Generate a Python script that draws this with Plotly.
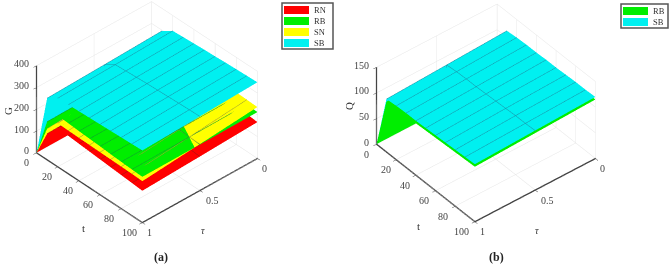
import math
import plotly.graph_objects as go

t = [0, 10, 20, 30, 40, 50, 60, 70, 80, 90, 100]
tau = [0, 0.5, 1]

# panel (a): G values, one row per tau, one column per t
G_RN = [[0, 130, 198, 195, 192, 189, 186, 183, 177, 172, 167],
        [0, 125, 188, 184, 180, 176, 172, 168, 164, 160, 156],
        [0, 120, 178, 174, 170, 166, 162, 158, 154, 150, 146]]
G_RB = [[0, 178, 238, 235, 231, 228, 225, 222, 219, 216, 213],
        [0, 176, 236, 233, 229, 226, 223, 220, 217, 214, 211],
        [0, 175, 235, 232, 228, 225, 222, 218, 215, 212, 210]]
G_SN = [[0, 165, 246, 245, 244, 243, 242, 241, 240, 238, 236],
        [0, 153, 222, 220, 219, 218, 217, 216, 215, 214, 213],
        [0, 143, 200, 198, 197, 196, 195, 194, 193, 192, 190]]
G_SB = [[0, 298, 330, 333, 336, 339, 341, 344, 346, 348, 350],
        [0, 290, 322, 325, 328, 331, 333, 335, 337, 339, 340],
        [0, 283, 315, 317, 319, 321, 323, 325, 327, 329, 331]]

# panel (b): Q values
Q_SB = [[0, 113, 115, 116, 116, 117, 117, 118, 119, 119, 120],
        [0, 108, 110, 111, 111, 112, 113, 114, 115, 115, 116],
        [0, 103, 105, 106, 106, 107, 108, 109, 110, 111, 112]]
Q_RB = [[0, 108, 110, 111, 111, 112, 112, 113, 114, 114, 115],
        [0, 103, 105, 106, 106, 107, 108, 109, 110, 110, 111],
        [0, 98, 100, 101, 101, 102, 103, 104, 105, 106, 107]]

T_TICKS = [0, 20, 40, 60, 80, 100]
TAU_TICKS = [0, 0.5, 1]
G_TICKS = [0, 100, 200, 300, 400]
Q_TICKS = [0, 50, 100, 150]

RED, GREEN, YELLOW, CYAN = "#ff0000", "#00ee00", "#ffff00", "#00f0f0"
LINES = {RED: "#a01010", GREEN: "#109a30", YELLOW: "#a0a030", CYAN: "#1a93a8"}
FONT = "Liberation Serif"
TICK = "#444444"
W, H = 669, 266


def surf(z, color, scene, lines=True):
    return go.Surface(
        x=t, y=tau, z=z, scene=scene, showscale=False,
        colorscale=[[0, color], [1, color]], hoverinfo="skip",
        lighting=dict(ambient=1, diffuse=0, specular=0, fresnel=0, roughness=1),
        contours=dict(
            x=dict(show=lines, start=10, end=100, size=10, color=LINES[color], width=1),
            y=dict(show=lines, start=0.5, end=1, size=1, color=LINES[color], width=1),
        ),
    )


def eye(phi_deg, el_deg, r, cz):
    p, e = math.radians(phi_deg), math.radians(el_deg)
    return dict(x=r * math.sin(p) * math.cos(e), y=-r * math.cos(p) * math.cos(e), z=r * math.sin(e) + cz)


def axis(rng, ticks):
    return dict(
        range=rng, tickvals=ticks, showticklabels=False, title=dict(text=""),
        showbackground=False, showgrid=True, gridcolor="#e4e4e4", gridwidth=1,
        showline=True, linecolor="#444444", linewidth=3, ticks="outside", ticklen=4,
        tickcolor="#444444", zeroline=False, showspikes=False, mirror=False,
    )


def tick_note(x, y, z, label, xs, ys, anchor="center"):
    return dict(x=x, y=y, z=z, text=label, showarrow=False, xanchor=anchor, yanchor="middle",
                xshift=xs, yshift=ys, font=dict(family=FONT, size=10, color=TICK))


def scene(zr, zt, phi, el, asp, domx, domy, r, cz):
    notes3d = [tick_note(0, 1, v, str(v), -6, 2, "right") for v in zt]
    notes3d += [tick_note(v, 1, 0, str(v), -10 - v * 0.035, -10) for v in T_TICKS]
    notes3d += [tick_note(100, v, 0, str(v), 12 if v == 0.5 else 7, -10) for v in TAU_TICKS]
    return dict(
        domain=dict(x=domx, y=domy),
        xaxis=axis([0, 100], T_TICKS),
        yaxis=axis([1, 0], TAU_TICKS),
        zaxis=axis(zr, zt),
        aspectmode="manual", aspectratio=dict(x=asp[0], y=asp[1], z=asp[2]),
        annotations=notes3d,
        camera=dict(projection=dict(type="orthographic"), eye=eye(phi, el, r, cz),
                    up=dict(x=0, y=0, z=1), center=dict(x=0, y=0, z=cz)),
    )


fig = go.Figure()
for z, c in [(G_RN, RED), (G_RB, GREEN), (G_SN, YELLOW), (G_SB, CYAN)]:
    fig.add_trace(surf(z, c, "scene"))
fig.add_trace(surf(Q_RB, GREEN, "scene2", lines=False))
fig.add_trace(surf(Q_SB, CYAN, "scene2"))


def px(x):
    return x / W


def py(y):
    return 1 - y / H


shapes, notes = [], []


def text(x, y, s, size, anchor="center", angle=0, color="#333333"):
    notes.append(dict(xref="paper", yref="paper", x=px(x), y=py(y), text=s, showarrow=False,
                      xanchor=anchor, yanchor="middle", textangle=angle,
                      font=dict(family=FONT, size=size, color=color)))


def legend(x0, y0, x1, y1, items, sx0, sx1, lx, rows):
    shapes.append(dict(type="rect", xref="paper", yref="paper", x0=px(x0), x1=px(x1), y0=py(y0), y1=py(y1),
                       line=dict(color="#555555", width=1.5), fillcolor="white"))
    for (name, col), ry in zip(items, rows):
        shapes.append(dict(type="rect", xref="paper", yref="paper", x0=px(sx0), x1=px(sx1), y0=py(ry - 4), y1=py(ry + 4),
                           line=dict(width=0), fillcolor=col))
        text(lx, ry, name, 8.5, "left")


legend(282, 3, 333, 49, [("RN", RED), ("RB", GREEN), ("SN", YELLOW), ("SB", CYAN)], 284, 309, 312, [10, 21, 32, 43])
legend(621, 4, 668, 28, [("RB", GREEN), ("SB", CYAN)], 623, 648, 651, [11, 22])
text(8, 111, "G", 11, angle=-90)
text(83, 228, "t", 11)
text(203, 230, "<i>τ</i>", 10)
text(161, 257, "<b>(a)</b>", 12, color="#222222")
text(349, 106, "Q", 11, angle=-90)
text(418, 226, "t", 11)
text(537, 230, "<i>τ</i>", 10)
text(496, 257, "<b>(b)</b>", 12, color="#222222")

fig.update_layout(
    width=W, height=H, margin=dict(l=0, r=0, t=0, b=0), paper_bgcolor="white",
    showlegend=False, font=dict(family=FONT), shapes=shapes, annotations=notes,
    scene=scene([0, 400], G_TICKS, 47.4, 37.3, (1.176, 1.176, 0.823), [0, 0.44], [0, 1], 1.8, -0.1975),
    scene2=scene([0, 150], Q_TICKS, 50.8, 40, (1.17, 1.17, 0.755), [0.507, 0.947], [0, 1], 1.8, -0.1975),
)
fig.write_html("out.html", config=dict(displayModeBar=False),
               post_script="document.body.style.margin='0';document.body.style.overflow='hidden';")
